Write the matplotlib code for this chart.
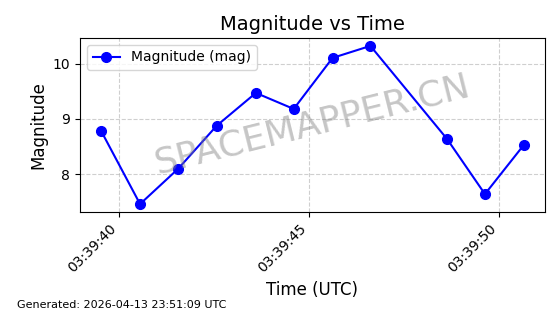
import numpy as np
import pandas as pd
import matplotlib
matplotlib.use("Agg")
import matplotlib.pyplot as plt
import matplotlib.dates as mdates

times = ["03:39:39.536", "03:39:40.558", "03:39:41.561", "03:39:42.575",
         "03:39:43.605", "03:39:44.600", "03:39:45.622", "03:39:46.618",
         "03:39:48.635", "03:39:49.631", "03:39:50.652"]
magnitudes = [8.78, 7.455, 8.096, 8.878, 9.473, 9.182, 10.109, 10.327,
              8.636, 7.636, 8.527]

t = pd.to_datetime(["2026-04-13 " + s for s in times])

fig, ax = plt.subplots(figsize=(5.6, 3.14), dpi=100)
plt.subplots_adjust(left=0.143, right=0.973, top=0.879, bottom=0.325)

ax.plot(t, magnitudes, color='blue', marker='o', markersize=7,
        linewidth=1.5, label='Magnitude (mag)')

ax.xaxis.set_major_locator(mdates.SecondLocator(bysecond=range(0, 60, 5)))
ax.xaxis.set_major_formatter(mdates.DateFormatter('%H:%M:%S'))
plt.setp(ax.get_xticklabels(), rotation=45, ha='right')

ax.set_title('Magnitude vs Time', fontsize=14)
ax.set_xlabel('Time (UTC)', fontsize=12)
ax.set_ylabel('Magnitude', fontsize=12)
ax.grid(True, linestyle='--', alpha=0.6)
ax.legend(loc='upper left')

# Watermark
ax.text(0.5, 0.5, 'SPACEMAPPER.CN', transform=ax.transAxes,
        fontsize=26, color='gray', alpha=0.45, rotation=14,
        ha='center', va='center')

fig.text(0.03, 0.02, 'Generated: 2026-04-13 23:51:09 UTC', fontsize=8)

plt.savefig('out.png', dpi=100)
